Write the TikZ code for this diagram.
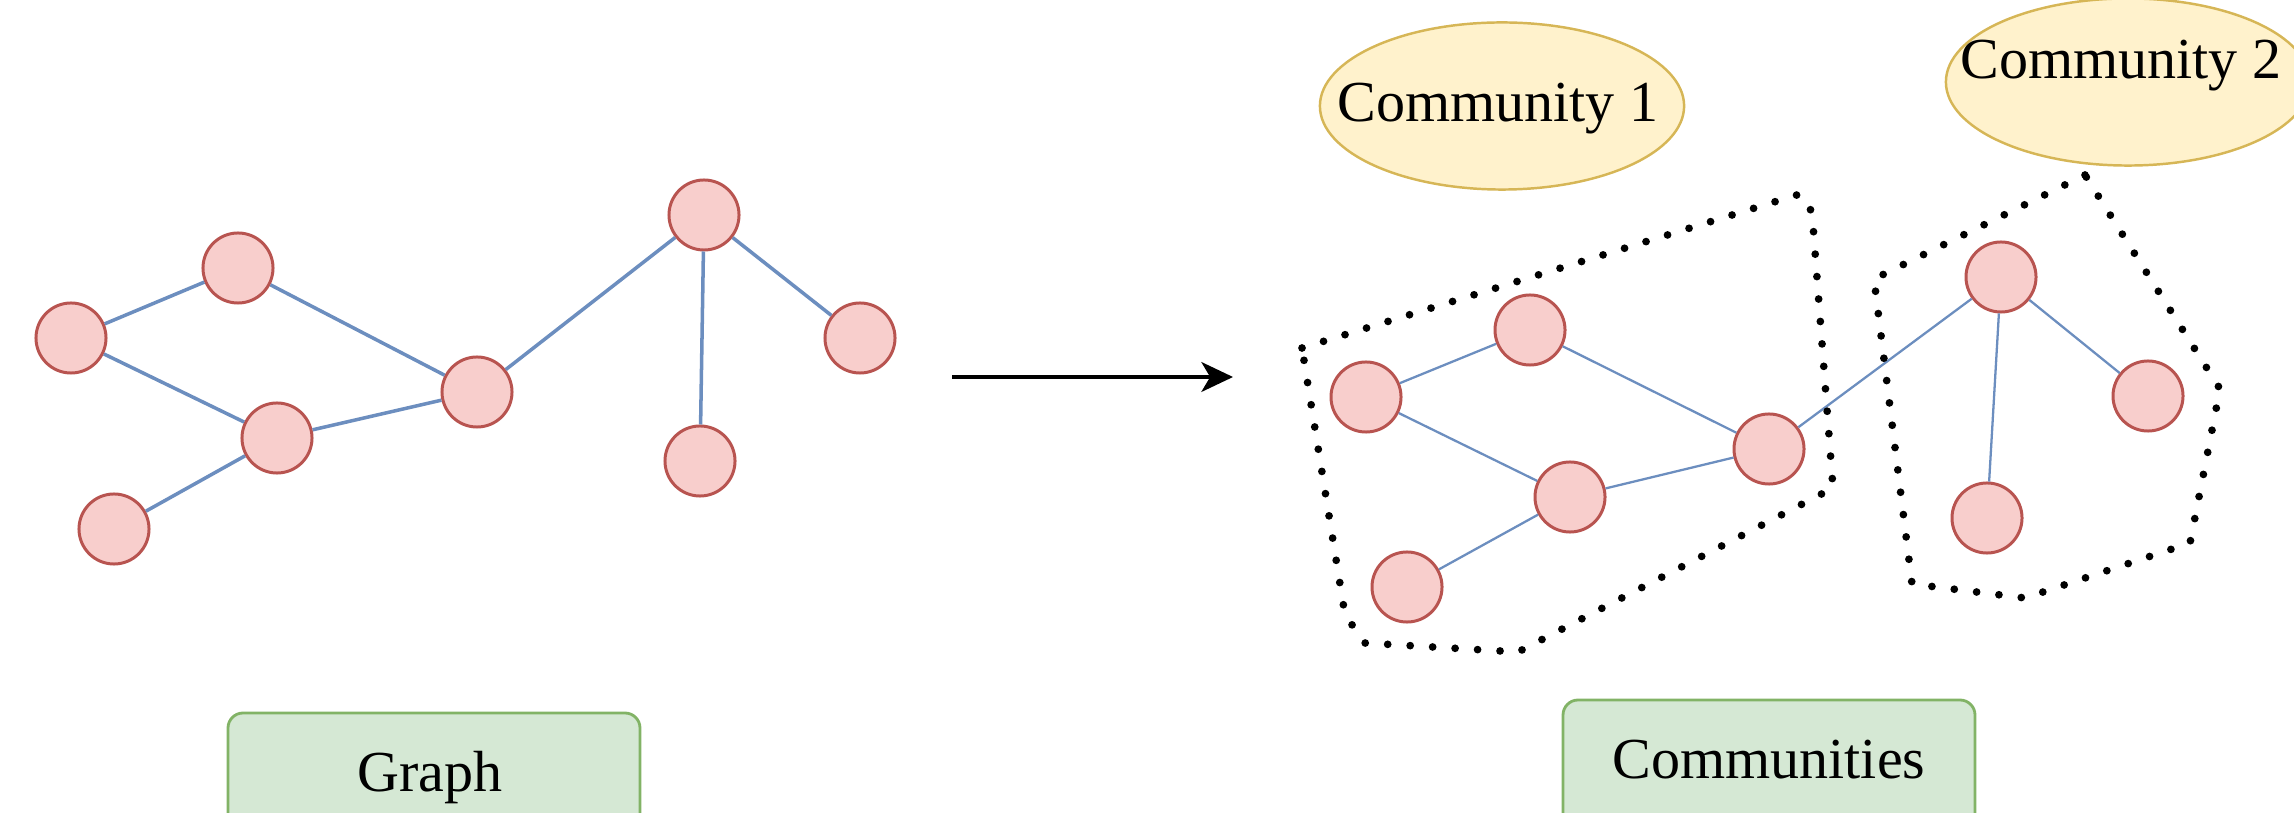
\documentclass[tikz,border=0pt]{standalone}
\usepackage{fontspec}
\setmainfont{Liberation Serif}
\usetikzlibrary{arrows.meta,shapes.geometric}
\definecolor{nodefill}{HTML}{F8CECC}
\definecolor{nodeline}{HTML}{B85450}
\definecolor{edgecol}{HTML}{6C8EBF}
\definecolor{ellfill}{HTML}{FFF2CC}
\definecolor{ellline}{HTML}{D6B656}
\definecolor{boxfill}{HTML}{D5E8D4}
\definecolor{boxline}{HTML}{82B366}
\tikzset{
  vert/.style={circle, draw=nodeline, fill=nodefill, line width=0.85pt, minimum size=0.7cm, inner sep=0pt},
  edgeL/.style={draw=edgecol, line width=1pt},
  edgeR/.style={draw=edgecol, line width=0.65pt},
  commell/.style={ellipse, draw=ellline, fill=ellfill, line width=0.7pt, minimum width=3.64cm, minimum height=1.67cm, inner sep=0pt},
  labbox/.style={draw=boxline, fill=boxfill, line width=0.8pt, rounded corners=0.15cm},
  dotline/.style={line width=2.2pt, line cap=round, dash pattern=on 0pt off 6.4pt, line join=round},
  txt/.style={font=\fontsize{16.5}{19}\selectfont, inner sep=0pt}
}
\begin{document}
\begin{tikzpicture}[x=0.01cm, y=-0.01cm]
\useasboundingbox (0,0) rectangle (2294,813);
% bottom label boxes (extend past bottom edge)
\begin{scope}
\clip (0,0) rectangle (2294,813);
\draw[labbox] (228,713) rectangle (640,860);
\draw[labbox] (1563,700) rectangle (1975,860);
\node[commell] (c2e) at (2128,82) {};
\end{scope}
\node[txt] (graphlbl) at (430,778) {Graph};
\node[txt] (commlbl) at (1769,760) {Communities};
% community ellipses
\node[commell] (c1) at (1502,106) {};
\node[txt] (c1t) at (1498,109) {Community 1};
\node[txt] (c2t) at (2121,66) {Community 2};
% left graph
\node[vert] (n1) at (71,338) {};
\node[vert] (n2) at (238,268) {};
\node[vert] (n3) at (277,438) {};
\node[vert] (n4) at (114,529) {};
\node[vert] (n5) at (477,392) {};
\node[vert] (n6) at (704,215) {};
\node[vert] (n7) at (860,338) {};
\node[vert] (n8) at (700,461) {};
\draw[edgeL] (n1) -- (n2);
\draw[edgeL] (n1) -- (n3);
\draw[edgeL] (n2) -- (n5);
\draw[edgeL] (n3) -- (n5);
\draw[edgeL] (n3) -- (n4);
\draw[edgeL] (n5) -- (n6);
\draw[edgeL] (n6) -- (n7);
\draw[edgeL] (n6) -- (n8);
% arrow
\coordinate (as) at (952,377);
\coordinate (ae) at (1233,377);
\draw[line width=0.9pt, -{Stealth[length=9pt, width=8.5pt, inset=2.5pt]}] (as) -- (ae);
% right graph
\node[vert] (m1) at (1366,397) {};
\node[vert] (m2) at (1530,330) {};
\node[vert] (m3) at (1570,497) {};
\node[vert] (m4) at (1407,587) {};
\node[vert] (m5) at (1769,449) {};
\node[vert] (m6) at (2001,277) {};
\node[vert] (m7) at (2148,396) {};
\node[vert] (m8) at (1987,518) {};
\draw[edgeR] (m1) -- (m2);
\draw[edgeR] (m1) -- (m3);
\draw[edgeR] (m2) -- (m5);
\draw[edgeR] (m3) -- (m5);
\draw[edgeR] (m3) -- (m4);
\draw[edgeR] (m5) -- (m6);
\draw[edgeR] (m6) -- (m7);
\draw[edgeR] (m6) -- (m8);
% dotted community boundaries
\draw[dotline] (1302,348) -- (1800,194) -- (1812,212) -- (1833,488) -- (1518,652) -- (1365,643) -- (1345,615) -- cycle;
\draw[dotline] (2085,175) -- (1874,279) -- (1912,584) -- (2025,598) -- (2190,543) -- (2220,389) -- cycle;
\end{tikzpicture}
\end{document}
